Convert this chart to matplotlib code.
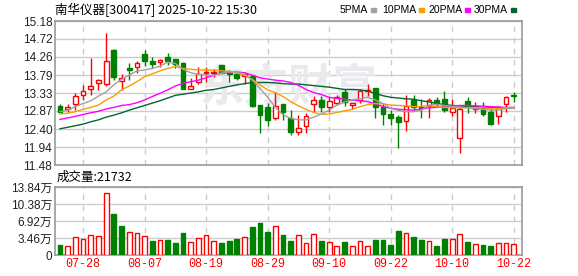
import matplotlib.pyplot as plt
import numpy as np

plt.rcParams['font.family'] = ['Liberation Sans', 'Noto Sans CJK SC', 'DejaVu Sans']

# trading days shown
dates = ['07-23', '07-24', '07-25', '07-28', '07-29', '07-30', '07-31',
         '08-01', '08-04', '08-05', '08-06', '08-07', '08-08', '08-11', '08-12',
         '08-13', '08-14', '08-15', '08-18', '08-19', '08-20', '08-21', '08-22',
         '08-25', '08-26', '08-27', '08-28', '08-29', '09-01', '09-02', '09-03',
         '09-04', '09-05', '09-08', '09-09', '09-10', '09-11', '09-12', '09-15',
         '09-16', '09-17', '09-18', '09-19', '09-22', '09-23', '09-24', '09-25',
         '09-26', '09-29', '09-30', '10-09', '10-10', '10-13', '10-14', '10-15',
         '10-16', '10-17', '10-20', '10-21', '10-22']

opens = [13.00, 12.91, 13.04, 13.28, 13.42, 13.58, 13.56, 14.43, 13.64, 13.98,
         13.99, 14.33, 14.15, 14.12, 14.25, 14.20, 14.11, 13.42, 13.62, 13.85,
         13.85, 14.04, 13.85, 13.82, 13.77, 13.77, 13.03, 12.97, 12.70, 13.05,
         12.70, 12.34, 12.47, 13.06, 13.15, 12.98, 13.07, 13.36, 13.01, 13.15,
         13.37, 13.46, 12.97, 12.79, 12.72, 12.61, 13.15, 12.98, 13.00, 13.15,
         13.17, 12.83, 12.17, 13.12, 12.92, 12.95, 12.83, 12.74, 13.06, 13.27]
highs = [13.06, 13.04, 13.32, 13.53, 14.24, 13.69, 14.88, 14.45, 13.81, 14.11,
         14.14, 14.43, 14.26, 14.20, 14.37, 14.21, 14.13, 13.72, 13.99, 13.99,
         13.94, 14.05, 13.91, 13.84, 13.87, 13.79, 13.03, 13.08, 13.35, 13.05,
         12.90, 12.76, 12.81, 13.26, 13.26, 13.22, 13.28, 13.42, 13.07, 13.42,
         13.56, 13.46, 13.08, 12.89, 12.77, 13.28, 13.28, 13.17, 13.19, 13.22,
         13.39, 13.17, 13.00, 13.22, 13.11, 13.09, 12.94, 12.99, 13.25, 13.36]
lows = [12.81, 12.85, 12.89, 13.15, 13.28, 13.41, 13.51, 13.66, 13.41, 13.66,
        13.85, 14.02, 13.96, 13.99, 14.05, 13.96, 13.43, 13.42, 13.56, 13.62,
        13.74, 13.84, 13.62, 13.66, 13.56, 12.98, 12.29, 12.47, 12.64, 12.64,
        12.25, 12.24, 12.31, 12.85, 12.83, 12.85, 13.02, 13.00, 12.91, 13.07,
        13.25, 12.70, 12.51, 12.51, 11.91, 12.36, 12.89, 12.70, 12.70, 12.98,
        12.85, 12.75, 11.80, 12.81, 12.81, 12.74, 12.51, 12.53, 12.83, 13.11]
closes = [12.83, 12.97, 13.26, 13.38, 13.51, 13.66, 14.15, 13.75, 13.72, 13.92,
          14.09, 14.16, 14.08, 14.19, 14.14, 14.07, 13.44, 13.51, 13.83, 13.88,
          13.87, 13.85, 13.82, 13.71, 13.82, 13.00, 12.77, 12.64, 12.99, 12.83,
          12.34, 12.42, 12.74, 13.15, 12.98, 13.12, 13.22, 13.09, 13.07, 13.37,
          13.40, 12.96, 12.78, 12.70, 12.59, 13.00, 12.98, 12.95, 13.14, 13.06,
          12.89, 12.94, 12.92, 12.98, 13.00, 12.79, 12.53, 12.98, 13.23, 13.25]

# volume in 万 (10k), red = up day
volumes = [2.11, 1.91, 3.69, 3.30, 4.02, 3.82, 12.59, 8.43, 5.86, 4.61,
           4.42, 3.82, 2.90, 3.03, 3.10, 2.50, 4.48, 2.64, 3.49, 4.02,
           2.83, 2.50, 2.90, 3.30, 3.69, 5.67, 6.46, 4.68, 6.00, 4.09,
           2.94, 4.09, 2.50, 4.28, 2.90, 2.70, 1.91, 2.70, 1.91, 2.90,
           1.91, 3.10, 3.10, 1.98, 4.88, 4.42, 3.76, 3.10, 2.90, 1.78,
           3.30, 3.30, 4.28, 2.70, 2.31, 2.11, 1.78, 2.50, 2.50, 2.17]
vol_up = [0, 1, 1, 1, 1, 1, 1, 0, 0, 1, 1, 1, 0, 1, 0, 0, 0, 1, 1, 1,
          1, 0, 0, 0, 1, 0, 0, 0, 1, 0, 0, 1, 1, 1, 0, 1, 1, 0, 1, 1,
          1, 0, 0, 0, 0, 1, 0, 0, 1, 0, 0, 1, 1, 0, 1, 0, 0, 1, 1, 1]

ma5 = [12.85, 12.89, 12.98, 13.06, 13.13, 13.25, 13.36, 13.54, 13.68, 13.79,
       13.90, 13.92, 13.96, 14.02, 14.12, 14.09, 13.94, 13.85, 13.81, 13.79,
       13.78, 13.84, 13.88, 13.86, 13.82, 13.66, 13.45, 13.22, 12.96, 12.77,
       12.68, 12.64, 12.64, 12.71, 12.79, 12.89, 13.02, 13.10, 13.15, 13.18,
       13.22, 13.15, 13.06, 12.94, 12.88, 12.85, 12.85, 12.89, 13.02, 13.04,
       13.01, 12.98, 12.96, 12.95, 12.93, 12.91, 12.89, 12.89, 12.93, 12.96]
ma10 = [12.79, 12.81, 12.85, 12.91, 12.96, 13.02, 13.15, 13.25, 13.41, 13.51,
        13.62, 13.75, 13.82, 13.90, 13.96, 14.01, 13.96, 13.94, 13.92, 13.92,
        13.92, 13.90, 13.88, 13.84, 13.79, 13.68, 13.54, 13.41, 13.34, 13.24,
        13.11, 13.00, 12.91, 12.83, 12.78, 12.79, 12.83, 12.87, 12.91, 12.98,
        13.03, 13.06, 13.05, 13.02, 13.01, 13.00, 12.98, 12.99, 13.00, 12.98,
        12.96, 12.95, 12.95, 12.96, 12.95, 12.95, 12.93, 12.93, 12.95, 12.95]
ma20 = [12.65, 12.69, 12.73, 12.78, 12.82, 12.86, 12.92, 12.96, 13.01, 13.03,
        13.08, 13.15, 13.24, 13.32, 13.41, 13.51, 13.58, 13.62, 13.66, 13.72,
        13.79, 13.84, 13.85, 13.87, 13.85, 13.79, 13.72, 13.69, 13.66, 13.64,
        13.60, 13.53, 13.42, 13.34, 13.29, 13.22, 13.19, 13.17, 13.15, 13.13,
        13.11, 13.05, 12.98, 12.94, 12.91, 12.90, 12.89, 12.92, 12.95, 12.96,
        12.98, 13.00, 13.01, 13.01, 13.00, 12.99, 12.98, 12.97, 12.96, 12.96]
ma30 = [12.41, 12.45, 12.49, 12.53, 12.59, 12.64, 12.71, 12.76, 12.82, 12.89,
        12.95, 13.01, 13.07, 13.13, 13.20, 13.27, 13.30, 13.33, 13.36, 13.40,
        13.42, 13.46, 13.50, 13.54, 13.57, 13.60, 13.60, 13.60, 13.59, 13.57,
        13.56, 13.56, 13.54, 13.52, 13.50, 13.48, 13.45, 13.42, 13.42, 13.41,
        13.38, 13.32, 13.26, 13.22, 13.20, 13.18, 13.17, 13.13, 13.10, 13.06,
        13.03, 13.01, 13.00, 12.98, 12.97, 12.96, 12.95, 12.95, 12.95, 12.95]

price_ticks = [11.48, 11.94, 12.40, 12.87, 13.33, 13.79, 14.26, 14.72, 15.18]
vol_ticks = [0, 3.46, 6.92, 10.38, 13.84]
last_vol = 21732

RED = '#ff0000'
GREEN = '#008000'
GRID = '#cccccc'
EDGE = '#999999'

fig = plt.figure(figsize=(5.78, 2.76), dpi=100)
W, H = 578.0, 276.0
ax1 = fig.add_axes([55 / W, 111 / H, 467 / W, 144 / H])
ax2 = fig.add_axes([55 / W, 21 / H, 467 / W, 68 / H])

x = np.arange(len(dates))
o = np.array(opens)
c = np.array(closes)
up = c >= o
tick_idx = x[3::8]

# watermark
ax1.text(0.5, 0.53, '东方财富', transform=ax1.transAxes, ha='center', va='center',
         fontsize=32, fontstyle='italic', fontweight='bold', color='#e9e9ee',
         family=['Noto Sans CJK SC'], zorder=1)

# candles
cols = [RED if u else GREEN for u in up]
ax1.vlines(x, lows, highs, colors=cols, lw=1, zorder=3)
body_h = np.maximum(np.abs(c - o), 0.012)
ax1.bar(x, body_h, bottom=np.minimum(o, c), width=0.62,
        color=['white' if u else GREEN for u in up], edgecolor=cols,
        linewidth=1, zorder=4)

ax1.plot(x, ma30, color='#006633', lw=1, zorder=5)
ax1.plot(x, ma20, color='#ff00ff', lw=1, zorder=5)
ax1.plot(x, ma10, color='#f5a000', lw=1, zorder=5)
ax1.plot(x, ma5, color='#a0a0a0', lw=1, zorder=5)

# volume
vcols = [RED if u else GREEN for u in vol_up]
ax2.bar(x, volumes, width=0.62, color=['white' if u else GREEN for u in vol_up],
        edgecolor=vcols, linewidth=1, zorder=3)

for ax in (ax1, ax2):
    ax.set_xlim(-0.65, 60.08)
    ax.set_xticks(tick_idx)
    ax.xaxis.grid(True, color=GRID, ls=(0, (4, 4)), lw=1)
    ax.yaxis.grid(True, color=GRID, lw=1)
    ax.set_axisbelow(True)
    ax.tick_params(length=0, pad=2)
    for s in ax.spines.values():
        s.set_color(EDGE)
        s.set_linewidth(1.2)

ax1.set_ylim(11.48, 15.18)
ax1.set_yticks(price_ticks)
ax1.set_yticklabels(['%.2f' % t for t in price_ticks], fontsize=8.5, color='#222222')
ax1.set_xticklabels([])

ax2.set_ylim(0, 13.84)
ax2.set_yticks(vol_ticks)
ax2.set_yticklabels(['0'] + ['%.2f万' % t for t in vol_ticks[1:]], fontsize=8.5,
                    color='#222222')
ax2.set_xticklabels([dates[i] for i in tick_idx], fontsize=8.5, color=RED,
                    family=['Liberation Mono', 'DejaVu Sans Mono'])

# title and legend
fig.text(55 / W, 1 - 10 / H, '南华仪器[300417] 2025-10-22 15:30', fontsize=9,
         va='center', family=['Noto Sans CJK SC', 'DejaVu Sans'])
legend = [('5PMA', '#a0a0a0', 340), ('10PMA', '#f5a000', 382),
          ('20PMA', '#ff00ff', 428), ('30PMA', '#006633', 474)]
for name, col, lx in legend:
    t = fig.text(lx / W, 1 - 10 / H, name, fontsize=7.5, va='center')
    fig.canvas.draw()
    bb = t.get_window_extent()
    fig.patches.append(plt.Rectangle(((bb.x1 + 3) / W, (H - 12) / H), 5 / W, 4 / H,
                                     transform=fig.transFigure, color=col))

fig.text(57 / W, 1 - 177 / H, '成交量:%d' % last_vol, fontsize=9, va='center',
         family=['Noto Sans CJK SC', 'DejaVu Sans'])

fig.savefig('out.png', dpi=100)
